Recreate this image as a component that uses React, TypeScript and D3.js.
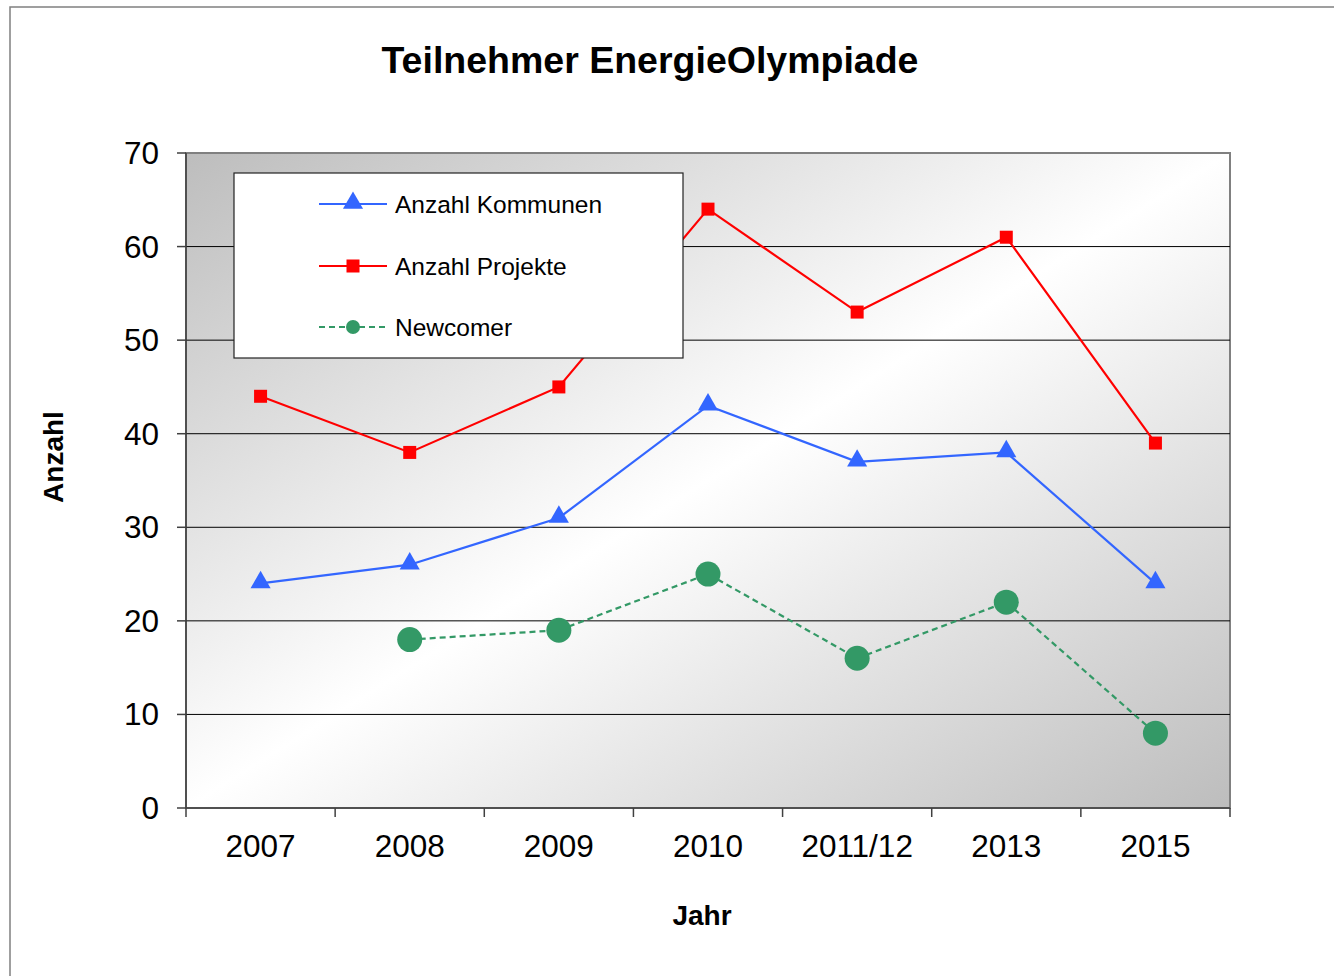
import React from 'react';
import * as d3 from 'd3';

const years = ['2007', '2008', '2009', '2010', '2011/12', '2013', '2015'];
const kommunen = [24, 26, 31, 43, 37, 38, 24];
const projekte = [44, 38, 45, 64, 53, 61, 39];
const newcomer: (number | null)[] = [null, 18, 19, 25, 16, 22, 8];
const yTicks = [0, 10, 20, 30, 40, 50, 60, 70];

const W = 1334;
const H = 976;
const plot = { left: 186, top: 153, right: 1230, bottom: 808 };
const font = '"Liberation Sans", Arial, sans-serif';

const BLUE = '#3366FF';
const RED = '#FF0000';
const GREEN = '#339966';

export default function App() {
  const x = d3.scaleBand<string>().domain(years).range([plot.left, plot.right]);
  const y = d3.scaleLinear().domain([0, 70]).range([plot.bottom, plot.top]);
  const cx = (d: string) => (x(d) ?? 0) + x.bandwidth() / 2;

  const line = d3
    .line<number | null>()
    .defined((d) => d != null)
    .x((_, i) => cx(years[i]))
    .y((d) => y(d as number));

  const tri = d3.symbol(d3.symbolTriangle, 175)();

  // legend rows
  const legend = [
    { label: 'Anzahl Kommunen', color: BLUE, kind: 'tri', dash: undefined },
    { label: 'Anzahl Projekte', color: RED, kind: 'sq', dash: undefined },
    { label: 'Newcomer', color: GREEN, kind: 'circ', dash: '6,4' },
  ];
  const legendY = [204, 266, 327];

  return (
    <svg
      width={W}
      height={H}
      style={{ position: 'absolute', left: 0, top: 0, background: '#fff' }}
      fontFamily={font}
    >
      <defs>
        <linearGradient id="bg" x1="0" y1="0" x2="1" y2="1">
          <stop offset="0" stopColor="#bdbdbd" />
          <stop offset="0.5" stopColor="#ffffff" />
          <stop offset="1" stopColor="#bdbdbd" />
        </linearGradient>
      </defs>

      <rect x={10} y={7} width={W} height={H} fill="#fff" stroke="#808080" strokeWidth={1.5} />

      <text x={650} y={73} textAnchor="middle" fontSize={37.5} fontWeight="bold">
        Teilnehmer EnergieOlympiade
      </text>

      <rect
        x={plot.left}
        y={plot.top}
        width={plot.right - plot.left}
        height={plot.bottom - plot.top}
        fill="url(#bg)"
        stroke="#808080"
        strokeWidth={2}
      />

      {yTicks.slice(1, -1).map((t) => (
        <line key={t} x1={plot.left} x2={plot.right} y1={y(t)} y2={y(t)} stroke="#000" strokeWidth={1} />
      ))}

      {/* axes */}
      <line x1={plot.left} x2={plot.left} y1={plot.top} y2={plot.bottom} stroke="#404040" strokeWidth={1.5} />
      <line x1={plot.left} x2={plot.right} y1={plot.bottom} y2={plot.bottom} stroke="#404040" strokeWidth={1.5} />
      {yTicks.map((t) => (
        <g key={t}>
          <line x1={plot.left - 9} x2={plot.left} y1={y(t)} y2={y(t)} stroke="#404040" strokeWidth={1.5} />
          <text x={159} y={y(t) + 11} textAnchor="end" fontSize={31.5}>
            {t}
          </text>
        </g>
      ))}
      {years.map((yr) => (
        <g key={yr}>
          <line x1={x(yr)} x2={x(yr)} y1={plot.bottom} y2={plot.bottom + 9} stroke="#404040" strokeWidth={1.5} />
          <text x={cx(yr)} y={857} textAnchor="middle" fontSize={31.5}>
            {yr}
          </text>
        </g>
      ))}
      <line x1={plot.right} x2={plot.right} y1={plot.bottom} y2={plot.bottom + 9} stroke="#404040" strokeWidth={1.5} />

      <text x={702} y={925} textAnchor="middle" fontSize={28} fontWeight="bold">
        Jahr
      </text>
      <text
        transform={`translate(63,457) rotate(-90)`}
        textAnchor="middle"
        fontSize={28}
        fontWeight="bold"
      >
        Anzahl
      </text>

      {/* series */}
      <path d={line(kommunen) ?? ''} fill="none" stroke={BLUE} strokeWidth={2.2} />
      {kommunen.map((d, i) => (
        <path key={i} d={tri ?? ''} transform={`translate(${cx(years[i])},${y(d) - 1})`} fill={BLUE} />
      ))}

      <path d={line(projekte) ?? ''} fill="none" stroke={RED} strokeWidth={2.2} />
      {projekte.map((d, i) => (
        <rect key={i} x={cx(years[i]) - 6.5} y={y(d) - 6.5} width={13} height={13} fill={RED} />
      ))}

      <path d={line(newcomer) ?? ''} fill="none" stroke={GREEN} strokeWidth={2.2} strokeDasharray="6,4" />
      {newcomer.map((d, i) =>
        d == null ? null : <circle key={i} cx={cx(years[i])} cy={y(d)} r={12.5} fill={GREEN} />,
      )}

      {/* legend */}
      <rect x={234} y={173} width={449} height={185} fill="#fff" stroke="#222" strokeWidth={1.2} />
      {legend.map((l, i) => (
        <g key={l.label} transform={`translate(0,${legendY[i]})`}>
          <line x1={319} x2={387} y1={0} y2={0} stroke={l.color} strokeWidth={2.2} strokeDasharray={l.dash} />
          {l.kind === 'tri' && <path d={tri ?? ''} transform="translate(353,-1)" fill={l.color} />}
          {l.kind === 'sq' && <rect x={346.5} y={-6.5} width={13} height={13} fill={l.color} />}
          {l.kind === 'circ' && <circle cx={353} cy={0} r={7} fill={l.color} />}
          <text x={395} y={8.5} fontSize={24.5}>
            {l.label}
          </text>
        </g>
      ))}
    </svg>
  );
}
